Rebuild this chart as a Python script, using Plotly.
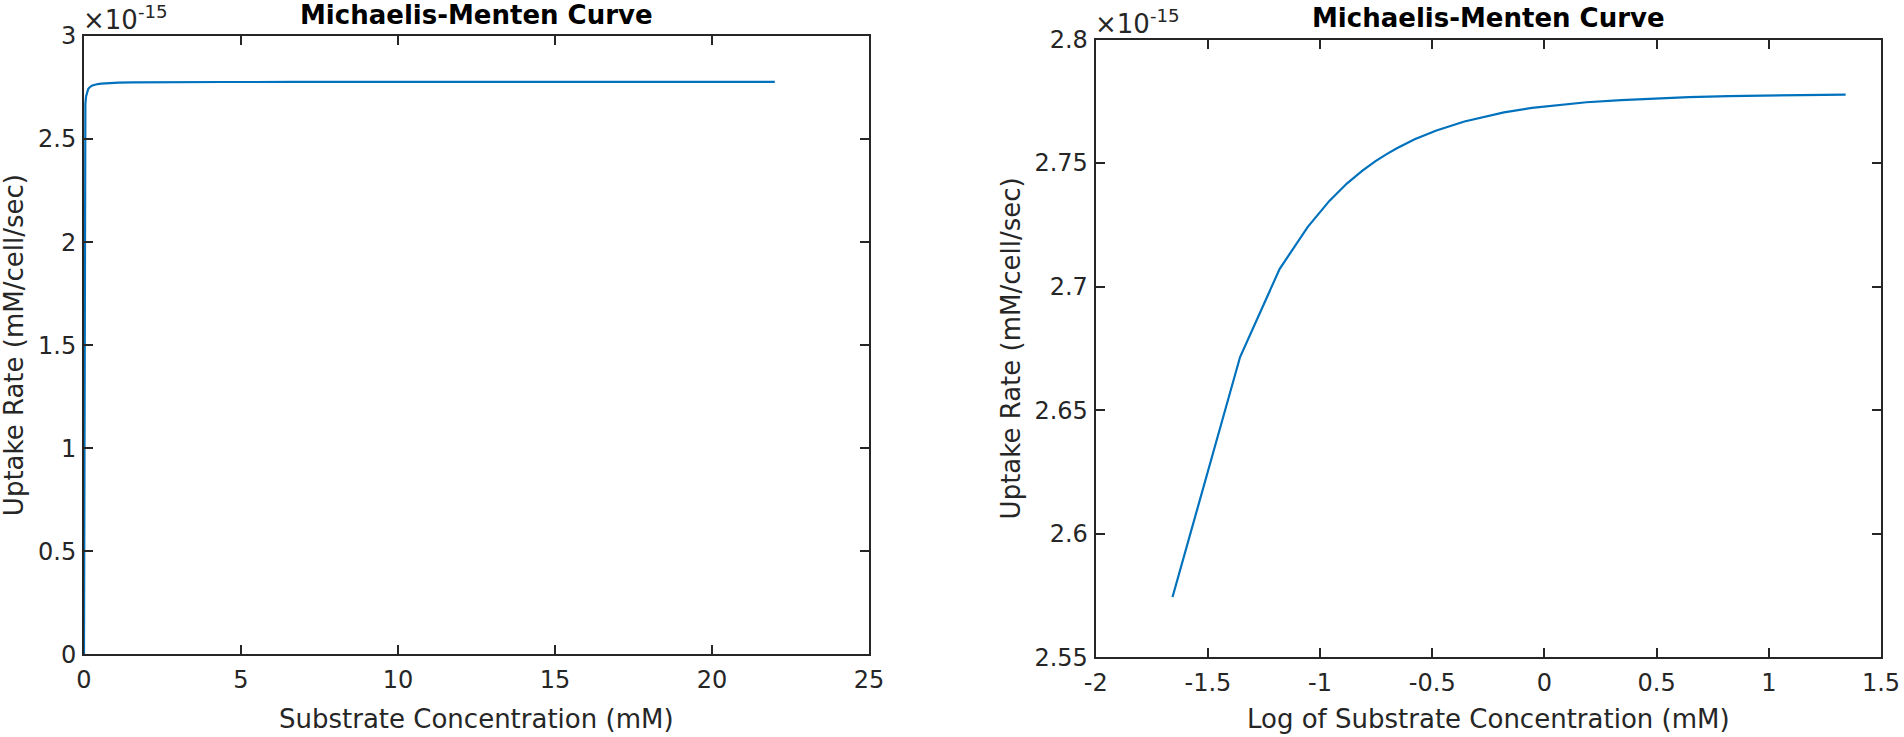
import numpy as np
import plotly.graph_objects as go

# Data (uptake rate in units of 1e-15 mM/cell/sec)
substrate_mM = [0, 0.022, 0.044, 0.066, 0.088, 0.110, 0.132, 0.154, 0.176, 0.198,
                0.22, 0.264, 0.33, 0.44, 0.55, 0.66, 0.88, 1.1, 1.54, 2.2,
                3.3, 4.4, 6.6, 8.8, 13.2, 17.6, 22.0]
uptake_e15 = [0.0, 2.5744, 2.6715, 2.7071, 2.7241, 2.7347, 2.7418, 2.7468, 2.7507, 2.7536,
              2.7560, 2.7596, 2.7632, 2.7668, 2.7690, 2.7705, 2.7723, 2.7733, 2.7746, 2.7755,
              2.7763, 2.7767, 2.7771, 2.7773, 2.7775, 2.7776, 2.7777]

left_xticks = [0, 5, 10, 15, 20, 25]
left_yticks = [0, 0.5, 1, 1.5, 2, 2.5, 3]
left_yticklabels = ["0", "0.5", "1", "1.5", "2", "2.5", "3"]
right_xticks = [-2, -1.5, -1, -0.5, 0, 0.5, 1, 1.5]
right_xticklabels = ["-2", "-1.5", "-1", "-0.5", "0", "0.5", "1", "1.5"]
right_yticks = [2.55, 2.6, 2.65, 2.7, 2.75, 2.8]
right_yticklabels = ["2.55", "2.6", "2.65", "2.7", "2.75", "2.8"]

title_text = "Michaelis-Menten Curve"
ylabel_text = "Uptake Rate (mM/cell/sec)"
xlabel_left = "Substrate Concentration (mM)"
xlabel_right = "Log of Substrate Concentration (mM)"
exponent_text = "×10<sup>-15</sup>"

S = np.array(substrate_mM)
V = np.array(uptake_e15)
mask = S > 0
logS = np.log10(S[mask])
Vlog = V[mask]

W, H = 1904, 737
FONT = "DejaVu Sans"
AX = "#262626"
LINE = "#0072BD"

def px_x(p):
    return p / W

def px_y(p):
    return (H - p) / H

L_x0, L_x1, L_y0, L_y1 = 84, 869, 36, 654.3
R_x0, R_x1, R_y0, R_y1 = 1095.7, 1881, 39.5, 657.3

fig = go.Figure()
fig.add_trace(go.Scatter(x=S, y=V, mode="lines", line=dict(color=LINE, width=2.2),
                         xaxis="x", yaxis="y", showlegend=False, hoverinfo="skip"))
fig.add_trace(go.Scatter(x=logS, y=Vlog, mode="lines", line=dict(color=LINE, width=2.2),
                         xaxis="x2", yaxis="y2", showlegend=False, hoverinfo="skip"))

axis_common = dict(showline=True, linecolor=AX, linewidth=2, mirror="ticks",
                   ticks="inside", ticklen=9, tickwidth=1.5, tickcolor=AX,
                   showgrid=False, zeroline=False, automargin=False,
                   tickfont=dict(family=FONT, size=24, color=AX))

fig.update_layout(
    template="none",
    width=W, height=H,
    margin=dict(l=0, r=0, t=0, b=0, pad=0, autoexpand=False),
    paper_bgcolor="white", plot_bgcolor="white",
    xaxis=dict(domain=[px_x(L_x0), px_x(L_x1)], range=[0, 25], anchor="y",
               tickvals=left_xticks, ticktext=[str(t) for t in left_xticks],
               ticklabelstandoff=3, **axis_common),
    yaxis=dict(domain=[px_y(L_y1), px_y(L_y0)], range=[0, 3], anchor="x",
               tickvals=left_yticks, ticktext=left_yticklabels,
               ticklabelstandoff=1, **axis_common),
    xaxis2=dict(domain=[px_x(R_x0), px_x(R_x1)], range=[-2, 1.5], anchor="y2",
                tickvals=right_xticks, ticktext=right_xticklabels,
                ticklabelstandoff=3, **axis_common),
    yaxis2=dict(domain=[px_y(R_y1), px_y(R_y0)], range=[2.55, 2.8], anchor="x2",
                tickvals=right_yticks, ticktext=right_yticklabels,
                ticklabelstandoff=1, **axis_common),
)

ann = []
for (x0, x1, y0, y1, xl) in [(L_x0, L_x1, L_y0, L_y1, xlabel_left),
                             (R_x0, R_x1, R_y0, R_y1, xlabel_right)]:
    cx = (x0 + x1) / 2
    ann.append(dict(text="<b>" + title_text + "</b>", x=px_x(cx), y=px_y(y0 - 4),
                    xref="paper", yref="paper", xanchor="center", yanchor="bottom",
                    showarrow=False, font=dict(family=FONT, size=26, color="black")))
    ann.append(dict(text=xl, x=px_x(cx), y=px_y(719), xref="paper", yref="paper",
                    xanchor="center", yanchor="middle", showarrow=False,
                    font=dict(family=FONT, size=26, color=AX)))
    ann.append(dict(text=exponent_text, x=px_x(x0 - 3), y=px_y(y0 + 1), xref="paper",
                    yref="paper", xanchor="left", yanchor="bottom", showarrow=False,
                    font=dict(family=FONT, size=26, color=AX)))

ann.append(dict(text=ylabel_text, x=px_x(14), y=px_y((L_y0 + L_y1) / 2), xref="paper",
                yref="paper", xanchor="center", yanchor="middle", textangle=-90,
                showarrow=False, font=dict(family=FONT, size=26, color=AX)))
ann.append(dict(text=ylabel_text, x=px_x(1011), y=px_y((R_y0 + R_y1) / 2), xref="paper",
                yref="paper", xanchor="center", yanchor="middle", textangle=-90,
                showarrow=False, font=dict(family=FONT, size=26, color=AX)))

fig.update_layout(annotations=ann)
fig.write_html("out.html", config={"displayModeBar": False},
               post_script="document.body.style.margin='0';document.body.style.overflow='hidden';")
